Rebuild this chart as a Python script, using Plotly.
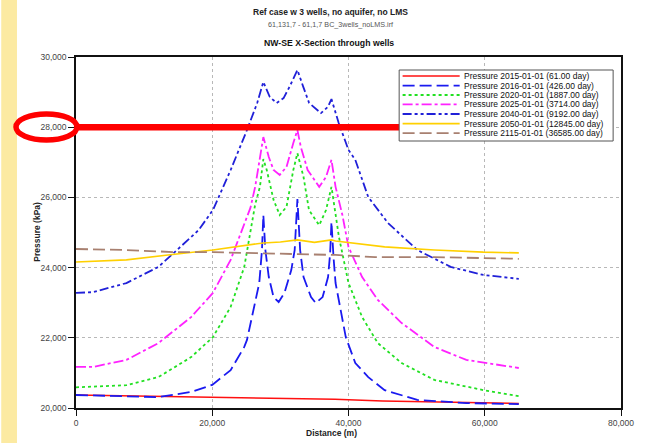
import plotly.graph_objects as go

# ---- data: pressure profiles along the NW-SE section ----
SERIES_NAMES = [
    "Pressure 2015-01-01 (61.00 day)",
    "Pressure 2016-01-01 (426.00 day)",
    "Pressure 2020-01-01 (1887.00 day)",
    "Pressure 2025-01-01 (3714.00 day)",
    "Pressure 2040-01-01 (9192.00 day)",
    "Pressure 2050-01-01 (12845.00 day)",
    "Pressure 2115-01-01 (36585.00 day)",
]

P2015_X = [0, 10000, 20000, 30000, 38000, 45000, 55000, 65000]
P2015_Y = [20370, 20340, 20310, 20270, 20250, 20200, 20160, 20130]

P2016_X = [0, 6000, 12000, 17000, 20000, 22700, 24700, 25100, 26100, 26900, 27300, 27500,
           27800, 28300, 29000, 29750, 30600, 31600, 32100, 32500, 32900, 33400, 34500,
           35200, 36200, 37000, 37300, 37500, 37800, 38100, 39600, 41000, 42900, 45300,
           50100, 57300, 65000]
P2016_Y = [20370, 20340, 20310, 20460, 20660, 21080, 21740, 21940, 22790, 23560, 24500, 25500,
           24500, 23730, 23160, 23020, 23280, 23930, 24500, 25950, 24500, 23730, 23160,
           22990, 23160, 23730, 24400, 25300, 24300, 23560, 22020, 21280, 20880, 20510,
           20230, 20140, 20110]

P2020_X = [0, 7400, 12100, 16900, 20100, 22700, 24700, 25600, 26300, 27000, 27500, 28000,
           29000, 29900, 30900, 31900, 32500, 33400, 34200, 35700, 36700, 37500, 38100,
           38600, 40000, 42000, 44300, 47800, 52600, 59800, 65000]
P2020_Y = [20590, 20650, 20880, 21450, 22020, 22880, 24020, 25000, 25800, 26300, 27090, 26780,
           25930, 25500, 25730, 26780, 27260, 26580, 25640, 25210, 25640, 26300, 25440,
           24870, 23560, 22590, 21850, 21280, 20800, 20510, 20340]

P2025_X = [0, 2500, 7400, 12100, 16900, 20100, 22700, 24700, 25600, 26300, 26900, 27500,
           28300, 29000, 29900, 30900, 31900, 32500, 33000, 34000, 35700, 36700, 37500,
           38100, 39100, 40000, 42000, 44300, 47800, 52600, 57300, 65000]
P2025_Y = [21170, 21170, 21370, 21850, 22590, 23280, 24220, 25270, 25700, 26300, 27070, 27720,
           27150, 26780, 26640, 26870, 27550, 27920, 27440, 26780, 26300, 26580, 27070,
           26300, 25500, 24590, 23730, 23080, 22420, 21740, 21370, 21140]

P2040_X = [0, 2500, 7400, 12100, 16900, 18000, 20100, 22700, 25100, 26600, 27500, 28450,
           29460, 30470, 31340, 32500, 33360, 34220, 35960, 36970, 37500, 38560, 40000,
           41000, 42900, 45800, 50100, 55000, 59800, 65000]
P2040_Y = [23280, 23300, 23560, 24020, 24870, 25070, 25640, 26780, 27920, 28690, 29290, 28860,
           28690, 28830, 29150, 29630, 29150, 28690, 28400, 28580, 28800, 28120, 27350,
           27070, 26010, 25270, 24500, 24020, 23790, 23680]

P2050_X = [0, 7400, 13500, 20100, 26600, 27500, 30000, 32500, 35000, 37500, 38100, 43900,
           45300, 52600, 59800, 65000]
P2050_Y = [24160, 24220, 24360, 24500, 24680, 24700, 24730, 24790, 24720, 24790, 24760, 24640,
           24590, 24500, 24440, 24420]

P2115_X = [0, 7400, 14700, 20100, 26600, 32500, 38100, 43900, 52600, 65000]
P2115_Y = [24530, 24500, 24440, 24440, 24410, 24380, 24360, 24300, 24300, 24250]

SERIES_X = [P2015_X, P2016_X, P2020_X, P2025_X, P2040_X, P2050_X, P2115_X]
SERIES_Y = [P2015_Y, P2016_Y, P2020_Y, P2025_Y, P2040_Y, P2050_Y, P2115_Y]

X_TICKS = [0, 20000, 40000, 60000, 80000]
Y_TICKS = [20000, 22000, 24000, 26000, 28000, 30000]
MARKED_PRESSURE = 28000

# ---- styles ----
COLORS = ["#FF1010", "#1A1AF0", "#22E022", "#FF22FF", "#2020D8", "#FFD000", "#A88070"]
DASHES = ["solid", "12px,5px", "3px,3px", "10px,3px,3px,3px",
          "9px,3px,3px,3px,3px,3px", "solid", "12px,5px"]
WIDTHS = [1.5, 1.8, 1.8, 1.8, 1.8, 1.6, 1.8]

FONT = "Liberation Sans, Arial, sans-serif"
W, H = 646, 443
L, R, T, B = 76, 630, 57, 408


def px(x):
    return (x - L) / (R - L)


def py(y):
    return (B - y) / (B - T)


fig = go.Figure()
for name, xs, ys, c, d, w in zip(SERIES_NAMES, SERIES_X, SERIES_Y, COLORS, DASHES, WIDTHS):
    fig.add_trace(go.Scatter(x=xs, y=ys, mode="lines", name=name,
                             line=dict(color=c, dash=d, width=w), showlegend=False))

shapes = []
# side strip
shapes.append(dict(type="rect", xref="paper", yref="paper", x0=px(0), x1=px(16),
                   y0=py(H), y1=py(0), fillcolor="#FCEAA2", line=dict(width=0),
                   layer="below"))
# highlight of the 28,000 kPa level
shapes.append(dict(type="line", xref="paper", yref="y", x0=px(79), x1=px(405),
                   y0=MARKED_PRESSURE, y1=MARKED_PRESSURE,
                   line=dict(color="#FF0000", width=6.5)))
shapes.append(dict(type="circle", xref="paper", yref="paper", x0=px(15), x1=px(77),
                   y0=py(140), y1=py(114), line=dict(color="#FF0000", width=5.5)))
# legend box
shapes.append(dict(type="rect", xref="paper", yref="paper", x0=px(404.5), x1=px(622),
                   y0=py(141), y1=py(70), fillcolor="white",
                   line=dict(color="#555555", width=1)))

annotations = []
row_y = [76.0, 85.6, 95.0, 104.4, 114.0, 123.6, 133.2]
for name, c, d, w, yy in zip(SERIES_NAMES, COLORS, DASHES, WIDTHS, row_y):
    shapes.append(dict(type="line", xref="paper", yref="paper", x0=px(408), x1=px(466),
                       y0=py(yy), y1=py(yy), line=dict(color=c, dash=d, width=w)))
    annotations.append(dict(xref="paper", yref="paper", x=px(468), y=py(yy), text=name,
                            showarrow=False, xanchor="left", yanchor="middle",
                            font=dict(family=FONT, size=8.5, color="#111111")))

# titles
annotations += [
    dict(xref="paper", yref="paper", x=px(335), y=py(12),
         text="<b>Ref case w 3 wells, no aquifer, no LMS</b>", showarrow=False,
         xanchor="center", yanchor="middle", font=dict(family=FONT, size=8.5, color="#222222")),
    dict(xref="paper", yref="paper", x=px(335), y=py(24.5),
         text="61,131,7 - 61,1,7 BC_3wells_noLMS.irf", showarrow=False,
         xanchor="center", yanchor="middle", font=dict(family=FONT, size=7.2, color="#555555")),
    dict(xref="paper", yref="paper", x=px(333), y=py(43),
         text="<b>NW-SE X-Section through wells</b>", showarrow=False,
         xanchor="center", yanchor="middle", font=dict(family=FONT, size=8.7, color="#111111")),
    dict(xref="paper", yref="paper", x=px(36), y=py(232), text="<b>Pressure (kPa)</b>",
         textangle=-90, showarrow=False, xanchor="center", yanchor="middle",
         font=dict(family=FONT, size=8.5, color="#222222")),
    dict(xref="paper", yref="paper", x=px(336), y=py(433), text="<b>Distance (m)</b>",
         showarrow=False, xanchor="center", yanchor="middle",
         font=dict(family=FONT, size=8.5, color="#222222")),
]

axis_common = dict(
    showline=True, linecolor="#111111", linewidth=1.6, mirror=True,
    ticks="outside", ticklen=6, tickwidth=1.4, tickcolor="#111111",
    showgrid=True, gridcolor="#B8B8B8", gridwidth=1, griddash="dot",
    zeroline=False, tickformat=",d",
    tickfont=dict(family=FONT, size=8.5, color="#444444"),
)

fig.update_layout(
    width=W, height=H,
    margin=dict(l=L, r=W - R, t=T, b=H - B, pad=0),
    paper_bgcolor="white", plot_bgcolor="white",
    showlegend=False,
    xaxis=dict(range=[0, 80000], tickvals=X_TICKS, **axis_common),
    yaxis=dict(range=[20000, 30000], tickvals=Y_TICKS, **axis_common),
    shapes=shapes,
    annotations=annotations,
)

fig.write_html("out.html", config={"displayModeBar": False})
